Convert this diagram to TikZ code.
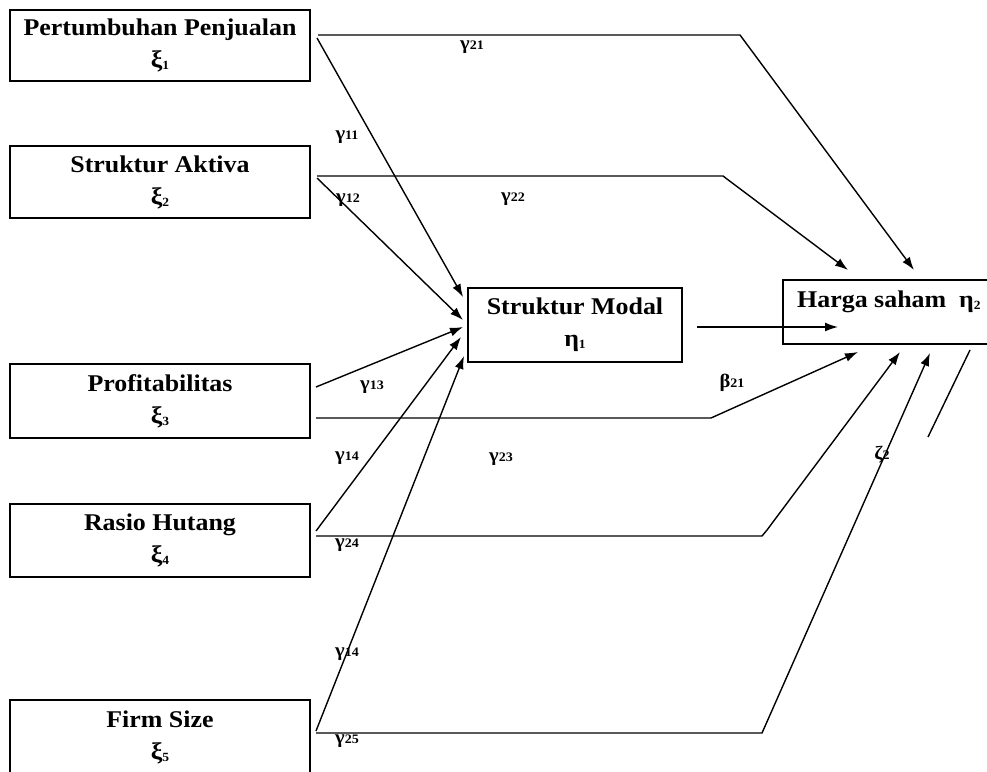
\documentclass[tikz,border=0pt]{standalone}
\usepackage{fontspec}
\setmainfont{Liberation Serif}[FakeStretch=1.08]
\usetikzlibrary{arrows.meta}
\newcommand\subd[2]{#1\raisebox{-2pt}{\fontsize{12.5}{12.5}\selectfont #2}}
\newcommand\glab[2]{{\fontsize{19}{19}\selectfont #1}{\fontsize{13}{13}\selectfont #2}}
\begin{document}
\begin{tikzpicture}[x=1pt,y=-1pt,
  box/.style={draw,line width=1.4pt,inner sep=0pt,align=center,
    font=\fontsize{24}{32}\selectfont\bfseries},
  conn/.style={line width=1.4pt,line join=miter},
  arr/.style={conn,-{Latex[length=13pt,width=9pt]}},
  lab/.style={inner sep=0pt,font=\bfseries}]
\useasboundingbox (0,0) rectangle (987,771);
% boxes
\node[box,minimum width=300pt,minimum height=71pt] (b1) at (160,45.5) {Pertumbuhan Penjualan\\\subd{ξ}{1}};
\node[box,minimum width=300pt,minimum height=72pt] (b2) at (160,182) {Struktur Aktiva\\\subd{ξ}{2}};
\node[box,minimum width=300pt,minimum height=74pt] (b3) at (160,401) {Profitabilitas\\\subd{ξ}{3}};
\node[box,minimum width=300pt,minimum height=73pt] (b4) at (160,540.5) {Rasio Hutang\\\subd{ξ}{4}};
\node[box,minimum width=300pt,minimum height=74pt] (b5) at (160,737) {Firm Size\\\subd{ξ}{5}};
\node[box,minimum width=214pt,minimum height=74pt] (sm) at (575,325) {Struktur Modal\\\subd{η}{1}};
\node[box,minimum width=214pt,minimum height=64pt] (hs) at (890,312) {};
\node[anchor=base west,inner sep=0pt,font=\fontsize{24}{32}\selectfont\bfseries] (hst) at (797,307) {Harga saham\ \ \subd{η}{2}};
% connector points
\coordinate (s1a) at (318,35);  \coordinate (k1) at (740,35);  \coordinate (t1) at (914,270);
\coordinate (s1b) at (317,38);  \coordinate (u1) at (463,297);
\coordinate (s2a) at (317,176); \coordinate (k2) at (723,176); \coordinate (t2) at (848,270);
\coordinate (s2b) at (317,178); \coordinate (u2) at (463,320);
\coordinate (s3a) at (316,387); \coordinate (u3) at (463,327);
\coordinate (s3b) at (316,418); \coordinate (k3) at (711,418); \coordinate (t3) at (858,352);
\coordinate (s4a) at (316,531); \coordinate (u4) at (461,337);
\coordinate (s4b) at (316,536); \coordinate (k4) at (762,536); \coordinate (k4b) at (767,530); \coordinate (t4) at (900,352);
\coordinate (s5a) at (316,731); \coordinate (u5) at (464,356);
\coordinate (s5b) at (316,733); \coordinate (k5) at (762,733); \coordinate (t5) at (930,353);
\coordinate (m1) at (697,327);  \coordinate (m2) at (838,327);
\coordinate (z1) at (970,350);  \coordinate (z2) at (928,437);
% connectors
\draw[arr] (s1a) -- (k1) -- (t1);
\draw[arr] (s1b) -- (u1);
\draw[arr] (s2a) -- (k2) -- (t2);
\draw[arr] (s2b) -- (u2);
\draw[arr] (s3a) -- (u3);
\draw[arr] (s3b) -- (k3) -- (t3);
\draw[arr] (s4a) -- (u4);
\draw[arr] (s4b) -- (k4) -- (k4b) -- (t4);
\draw[arr] (s5a) -- (u5);
\draw[arr] (s5b) -- (k5) -- (t5);
\draw[arr] (m1) -- (m2);
\draw[conn] (z1) -- (z2);
% labels
\node[lab] (l21) at (472,47) {\glab{γ}{21}};
\node[lab] (l11) at (347,137) {\glab{γ}{11}};
\node[lab] (l12) at (348,200) {\glab{γ}{12}};
\node[lab] (l22) at (513,199) {\glab{γ}{22}};
\node[lab] (l13) at (372,387) {\glab{γ}{13}};
\node[lab] (lb21) at (732,383) {\glab{β}{21}};
\node[lab] (l14) at (347,458) {\glab{γ}{14}};
\node[lab] (l23) at (501,459) {\glab{γ}{23}};
\node[lab] (lz2) at (882,455) {\glab{ζ}{2}};
\node[lab] (l24) at (347,545) {\glab{γ}{24}};
\node[lab] (l14b) at (347,654) {\glab{γ}{14}};
\node[lab] (l25) at (347,741) {\glab{γ}{25}};
\end{tikzpicture}
\end{document}
